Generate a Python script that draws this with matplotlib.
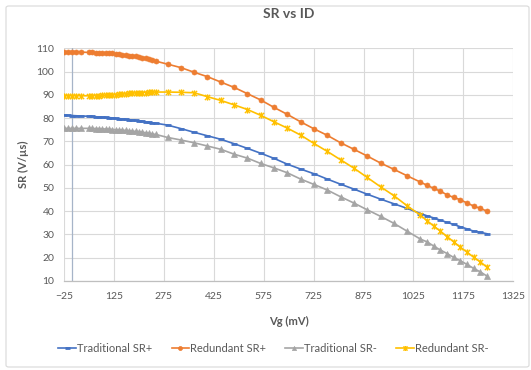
import matplotlib
matplotlib.use("Agg")
import matplotlib.pyplot as plt
from matplotlib.path import Path
from matplotlib.patches import FancyBboxPatch

plt.rcParams['font.family'] = ['Lato', 'DejaVu Sans']

# ---- data ----
vg = [-25, -12.5, 0, 12.5, 25,
      50, 60, 70, 80, 90, 100, 110, 120, 130, 140, 150, 160, 170, 180, 190, 200, 210, 220, 230, 240, 250,
      286, 326, 366, 406, 446, 486, 526, 566, 606, 646, 686, 726, 766, 806, 846, 886, 926, 966, 1006,
      1046, 1066, 1086, 1106, 1126, 1146, 1166, 1186, 1206, 1226, 1246]

trad_sr_plus = [81.3, 81.2, 81.1, 81.0, 80.9,
                80.8, 80.7, 80.6, 80.5, 80.4, 80.3, 80.2, 80.1, 79.9, 79.8, 79.6, 79.5, 79.3, 79.2, 79.0, 78.8,
                78.6, 78.4, 78.2, 78.0, 77.8,
                77.0, 75.5, 73.9, 72.4, 70.9, 69.0, 67.0, 64.9, 62.7, 60.2, 58.1, 56.1, 53.8, 51.6, 49.5, 47.3,
                45.2, 43.2, 41.2,
                39.0, 38.0, 37.1, 36.1, 35.2, 34.3, 33.3, 32.4, 31.4, 30.9, 30.3]

red_sr_plus = [108.5, 108.5, 108.5, 108.5, 108.4,
               108.2, 108.2, 108.1, 108.1, 108.0, 108.0, 107.9, 107.8, 107.6, 107.4, 107.2, 107.1, 106.9,
               106.7, 106.5, 106.3, 106.0, 105.7, 105.3, 104.9, 104.5,
               103.2, 101.7, 99.7, 97.8, 95.5, 93.2, 90.5, 87.8, 84.6, 81.6, 78.4, 75.4, 72.6, 69.4, 66.6,
               63.7, 60.7, 58.0, 55.2,
               52.5, 51.1, 49.8, 48.6, 47.0, 45.9, 44.9, 43.5, 42.2, 41.2, 40.0]

trad_sr_minus = [75.6, 75.6, 75.6, 75.6, 75.6,
                 75.6, 75.6, 75.5, 75.5, 75.4, 75.3, 75.2, 75.1, 75.0, 75.0, 74.9, 74.7, 74.6, 74.4, 74.3,
                 74.2, 74.0, 73.7, 73.5, 73.2, 73.0,
                 71.7, 70.6, 69.4, 68.0, 66.6, 64.5, 62.8, 60.5, 58.6, 56.5, 53.8, 51.5, 49.1, 46.2, 43.5,
                 40.6, 37.8, 34.8, 31.4,
                 28.0, 26.8, 25.0, 23.3, 21.8, 20.1, 18.7, 17.1, 15.4, 13.9, 12.1]

red_sr_minus = [89.6, 89.6, 89.6, 89.6, 89.6,
                89.6, 89.6, 89.7, 89.7, 89.8, 89.8, 89.9, 90.0, 90.1, 90.2, 90.3, 90.4, 90.6, 90.7, 90.8,
                90.9, 91.0, 91.0, 91.1, 91.1, 91.2,
                91.2, 91.1, 90.9, 89.2, 87.6, 85.7, 83.7, 81.2, 78.4, 75.7, 72.7, 69.1, 65.7, 62.1, 58.5,
                54.5, 50.5, 46.7, 42.3,
                38.3, 35.9, 33.6, 31.4, 29.1, 26.8, 24.5, 22.4, 20.2, 18.2, 15.9]

series_names = ["Traditional SR+", "Redundant SR+", "Traditional SR-", "Redundant SR-"]
x_ticks = [-25, 125, 275, 425, 575, 725, 875, 1025, 1175, 1325]
y_ticks = [10, 20, 30, 40, 50, 60, 70, 80, 90, 100, 110]

# ---- style ----
txt = '#595959'
star = Path([(-1, -1), (1, 1), (-1, 1), (1, -1), (0, -1.2), (0, 1.2)],
            [Path.MOVETO, Path.LINETO, Path.MOVETO, Path.LINETO, Path.MOVETO, Path.LINETO])

fig = plt.figure(figsize=(5.31, 3.70), dpi=100)
border = FancyBboxPatch((6 / 531, 3 / 370), 523 / 531, 361 / 370,
                        boxstyle="round,pad=0,rounding_size=0.005",
                        transform=fig.transFigure, fill=False, edgecolor='#D9D9D9', linewidth=0.8)
fig.patches.append(border)

ax = fig.add_axes([64 / 531, 89 / 370, 449.3 / 531, 232.7 / 370])
ax.set_xlim(-25, 1325)
ax.set_ylim(10, 110)
ax.set_xticks(x_ticks)
ax.set_yticks(y_ticks)
ax.grid(True, color='#D9D9D9', linewidth=0.8)
ax.set_axisbelow(True)
for s in ['top', 'right', 'left']:
    ax.spines[s].set_visible(False)
ax.spines['bottom'].set_color('#BFBFBF')
ax.spines['bottom'].set_linewidth(0.9)
ax.axvline(0, color='#A6B4C8', linewidth=0.9, zorder=1)
ax.tick_params(axis='x', length=0, labelsize=7.5, labelcolor=txt, pad=8)
ax.tick_params(axis='y', length=0, labelsize=7.5, labelcolor=txt, pad=7)

ax.plot(vg, trad_sr_plus, color='#4472C4', lw=1.2, marker='_', ms=4.5, mew=2.0, label=series_names[0])
ax.plot(vg, red_sr_plus, color='#ED7D31', lw=1.2, marker='o', ms=3.6, mew=0.5, label=series_names[1])
ax.plot(vg, trad_sr_minus, color='#A5A5A5', lw=1.2, marker='^', ms=3.8, mew=0.5, label=series_names[2])
ax.plot(vg, red_sr_minus, color='#FFC000', lw=1.2, marker=star, ms=4.5, mew=1.0, label=series_names[3])

ax.set_title("SR vs ID", fontsize=10, fontweight='bold', color=txt, pad=22)
ax.set_xlabel("Vg (mV)", fontsize=8, fontweight='bold', color=txt, labelpad=11)
ax.set_ylabel("SR (V/µs)", fontsize=8, fontweight='bold', color=txt, labelpad=5)

leg = fig.legend(loc='center', bbox_to_anchor=(0.515, 22 / 370), ncol=4, frameon=False,
                 fontsize=8, handlelength=1.6, handletextpad=0.1, columnspacing=1.7,
                 markerscale=0.8)
for t in leg.get_texts():
    t.set_color(txt)

fig.savefig("out.png", dpi=100)
